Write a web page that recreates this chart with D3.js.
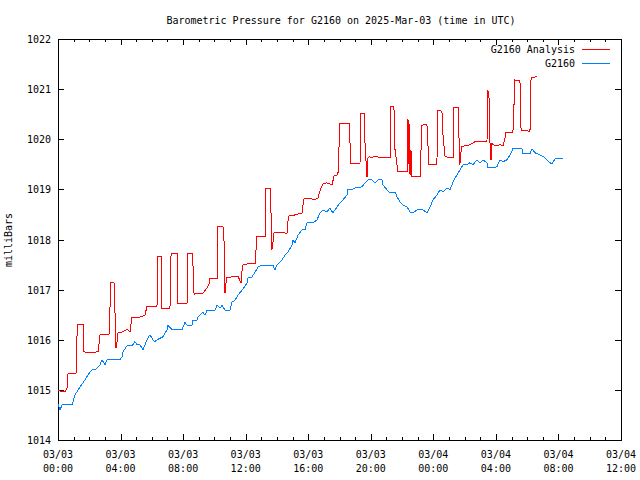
<!DOCTYPE html>
<html>
<head>
<meta charset="utf-8">
<script src="https://cdn.jsdelivr.net/npm/d3@7"></script>
<style>
  html, body { margin: 0; padding: 0; background: #fff; }
  svg { display: block; }
  text { font-family: "DejaVu Sans Mono", "Liberation Mono", monospace; font-size: 10px; fill: #000; }
</style>
</head>
<body>
<svg id="chart" width="640" height="480"></svg>
<script>
// ---- data (hours since 2025-03-03 00:00 UTC, pressure in mb) ----
const obsHours = [0.00,0.13,0.26,0.90,1.09,1.41,1.73,1.92,2.17,2.37,2.69,2.81,3.01,3.13,3.96,4.09,4.16,4.41,4.73,4.92,5.05,5.24,5.44,5.69,5.88,6.07,6.20,6.33,6.71,6.97,7.03,7.29,7.93,8.12,8.25,8.57,8.63,8.89,8.95,9.27,9.40,9.53,10.04,10.17,10.36,10.49,10.68,11.00,11.13,11.32,11.51,11.77,12.09,12.15,12.40,12.60,12.79,13.05,13.75,13.87,14.00,14.20,14.32,14.52,14.71,14.96,15.03,15.15,15.35,15.60,15.79,15.92,16.31,16.56,16.75,16.94,17.20,17.39,17.58,17.84,18.03,18.22,18.48,18.54,18.80,18.99,19.18,19.44,19.63,19.82,20.08,20.27,20.46,20.72,20.78,21.04,21.23,21.42,21.55,21.68,21.87,22.06,22.32,22.51,22.70,22.96,23.34,23.59,23.79,23.98,24.23,24.43,24.62,24.87,25.07,25.26,25.51,25.70,25.90,26.15,26.34,26.54,26.79,26.98,27.18,27.43,27.49,27.75,28.07,28.26,28.45,28.71,28.90,29.09,29.67,29.73,30.18,30.31,30.50,30.82,31.14,31.46,31.59,31.78,32.29];
const obsPressure = [1014.72,1014.60,1014.70,1014.70,1014.90,1015.06,1015.20,1015.30,1015.40,1015.40,1015.50,1015.60,1015.50,1015.60,1015.60,1015.66,1015.76,1015.88,1015.88,1015.96,1015.90,1015.90,1015.80,1016.00,1016.10,1016.00,1015.96,1016.00,1016.06,1016.20,1016.29,1016.20,1016.20,1016.35,1016.29,1016.29,1016.39,1016.39,1016.45,1016.55,1016.49,1016.59,1016.59,1016.69,1016.63,1016.69,1016.59,1016.59,1016.75,1016.79,1016.89,1016.99,1017.13,1017.23,1017.25,1017.35,1017.45,1017.49,1017.49,1017.39,1017.49,1017.55,1017.59,1017.69,1017.75,1017.89,1017.99,1017.93,1018.09,1018.19,1018.19,1018.33,1018.33,1018.39,1018.53,1018.59,1018.55,1018.63,1018.53,1018.65,1018.73,1018.79,1018.89,1018.99,1018.99,1019.03,1019.03,1019.05,1019.13,1019.19,1019.19,1019.13,1019.19,1019.19,1019.09,1018.99,1018.93,1018.93,1018.95,1018.85,1018.75,1018.69,1018.65,1018.55,1018.53,1018.59,1018.59,1018.53,1018.65,1018.79,1018.89,1018.99,1018.95,1019.03,1018.99,1019.15,1019.29,1019.39,1019.49,1019.49,1019.53,1019.49,1019.59,1019.53,1019.59,1019.53,1019.43,1019.43,1019.45,1019.59,1019.55,1019.59,1019.69,1019.81,1019.81,1019.71,1019.71,1019.81,1019.73,1019.69,1019.63,1019.53,1019.51,1019.61,1019.61];

const anaHours = [0.00,0.26,0.45,0.58,0.64,1.15,1.21,1.28,1.60,1.60,1.66,1.85,2.56,2.69,3.26,3.32,3.39,3.58,3.64,3.71,3.77,3.84,4.09,4.41,4.60,4.73,5.24,5.56,5.69,6.33,6.39,6.59,6.65,7.16,7.23,7.61,7.67,8.25,8.31,8.57,8.63,8.70,8.95,9.27,9.65,9.72,10.17,10.23,10.55,10.61,10.68,10.74,10.81,11.00,11.13,11.51,11.70,11.77,11.83,12.09,12.28,12.60,12.66,12.72,13.24,13.30,13.56,13.62,13.68,13.75,13.81,14.07,14.39,14.64,14.71,14.77,15.15,15.60,15.67,15.73,16.24,16.43,16.63,16.75,16.94,17.20,17.52,17.58,17.65,17.90,18.03,18.61,18.67,18.73,19.31,19.37,19.57,19.63,19.69,19.76,19.79,19.89,20.08,20.14,20.40,20.59,21.23,21.29,21.48,21.55,21.74,22.32,22.35,22.38,22.44,22.51,22.57,22.63,23.15,23.27,23.59,23.72,24.23,24.27,24.55,24.62,24.75,25.26,25.32,25.58,25.64,25.70,25.73,25.83,26.02,26.34,26.66,27.43,27.49,27.56,27.62,27.69,27.75,27.81,28.07,28.26,28.45,28.58,28.65,29.09,29.22,29.54,29.61,30.18,30.25,30.50,30.63];
const anaPressure = [1015.00,1014.96,1014.96,1015.04,1015.32,1015.32,1016.05,1016.31,1016.31,1016.05,1015.76,1015.74,1015.76,1016.10,1016.10,1016.61,1017.15,1017.15,1016.59,1015.84,1015.94,1016.15,1016.15,1016.21,1016.15,1016.45,1016.45,1016.49,1016.67,1016.67,1017.67,1017.67,1016.63,1016.63,1017.73,1017.73,1016.73,1016.73,1017.73,1017.73,1017.49,1016.91,1016.93,1016.93,1017.09,1017.23,1017.23,1018.25,1018.25,1018.05,1016.93,1017.13,1017.25,1017.23,1017.27,1017.27,1017.13,1017.39,1017.49,1017.51,1017.53,1017.51,1017.79,1018.05,1018.05,1019.01,1019.01,1018.53,1017.79,1017.95,1018.13,1018.13,1018.15,1018.11,1018.37,1018.47,1018.49,1018.53,1018.69,1018.81,1018.81,1018.79,1018.83,1018.97,1019.11,1019.13,1019.09,1019.17,1019.27,1019.29,1020.32,1020.32,1019.93,1019.51,1019.51,1020.52,1020.52,1019.93,1019.59,1019.25,1019.61,1019.65,1019.63,1019.65,1019.65,1019.63,1019.63,1020.66,1020.66,1019.79,1019.35,1019.35,1020.40,1019.49,1020.38,1019.29,1019.79,1019.25,1019.25,1020.28,1020.30,1019.49,1019.49,1020.58,1020.56,1020.08,1019.65,1019.63,1020.64,1020.64,1020.05,1019.49,1019.69,1019.85,1019.87,1019.89,1019.95,1019.95,1020.98,1020.82,1019.95,1019.59,1019.93,1019.89,1019.87,1019.89,1019.87,1020.02,1020.14,1020.14,1021.18,1021.16,1020.18,1020.16,1021.24,1021.24,1021.26];

const seriesNames = ["G2160 Analysis", "G2160"];
const seriesColors = ["#ff0000", "#0080ff"];

const xTickHours = [0,4,8,12,16,20,24,28,32,36];
const xTickDates = ["03/03","03/03","03/03","03/03","03/03","03/03","03/04","03/04","03/04","03/04"];
const xTickTimes = ["00:00","04:00","08:00","12:00","16:00","20:00","00:00","04:00","08:00","12:00"];
const yTicks = [1014,1015,1016,1017,1018,1019,1020,1021,1022];
const titleText = "Barometric Pressure for G2160 on 2025-Mar-03 (time in UTC)";
const yLabel = "milliBars";

// ---- layout ----
const L = 58, T = 39, R = 621, B = 440;
const svg = d3.select("#chart");
const x = d3.scaleLinear().domain([0, 36]).range([L, R]);
const y = d3.scaleLinear().domain([1014, 1022]).range([B, T]);

const minorHours = d3.range(0, 37, 1).filter(h => h % 4 !== 0);

// ticks (inward, mirrored)
const g = svg.append("g").attr("shape-rendering", "crispEdges");
function addAxis(axis, tx, ty) {
  const a = g.append("g").attr("transform", `translate(${tx},${ty})`).call(axis);
  a.select(".domain").remove();
  a.selectAll("text").remove();
  a.selectAll("line").attr("stroke", "#000");
}
addAxis(d3.axisBottom(x).tickValues(xTickHours).tickSize(-6).tickFormat(""), 0, B);
addAxis(d3.axisBottom(x).tickValues(minorHours).tickSize(-3).tickFormat(""), 0, B);
addAxis(d3.axisTop(x).tickValues(xTickHours).tickSize(-6).tickFormat(""), 0, T);
addAxis(d3.axisTop(x).tickValues(minorHours).tickSize(-3).tickFormat(""), 0, T);
addAxis(d3.axisLeft(y).tickValues(yTicks).tickSize(-6).tickFormat(""), L, 0);
addAxis(d3.axisRight(y).tickValues(yTicks).tickSize(-6).tickFormat(""), R, 0);

// frame
g.append("rect").attr("x", L).attr("y", T).attr("width", R - L).attr("height", B - T)
  .attr("fill", "none").attr("stroke", "#000").attr("stroke-width", 1);

// y tick labels
svg.append("g").selectAll("text").data(yTicks).join("text")
  .attr("x", L - 7).attr("y", d => y(d) + 4).attr("text-anchor", "end").text(d => d);

// x tick labels (two lines)
const xl = svg.append("g").selectAll("g").data(xTickHours).join("g")
  .attr("transform", d => `translate(${x(d)},0)`);
xl.append("text").attr("y", 458).attr("text-anchor", "middle").text((d, i) => xTickDates[i]);
xl.append("text").attr("y", 472).attr("text-anchor", "middle").text((d, i) => xTickTimes[i]);

// title
svg.append("text").attr("x", 341).attr("y", 24).attr("text-anchor", "middle").text(titleText);

// y label
svg.append("text").attr("transform", "translate(12,240) rotate(-90)")
  .attr("text-anchor", "middle").text(yLabel);

// lines (aliased, like the original bitmap plot)
const line = d3.line().x(d => x(d[0])).y(d => y(d[1]));
const anaData = anaHours.map((h, i) => [h, anaPressure[i]]);
const obsData = obsHours.map((h, i) => [h, obsPressure[i]]);
svg.append("path").datum(anaData).attr("d", line).attr("fill", "none")
  .attr("stroke", seriesColors[0]).attr("stroke-width", 1).attr("shape-rendering", "crispEdges");
svg.append("path").datum(obsData).attr("d", line).attr("fill", "none")
  .attr("stroke", seriesColors[1]).attr("stroke-width", 1).attr("shape-rendering", "crispEdges");

// legend
const leg = svg.append("g");
seriesNames.forEach((name, i) => {
  const ly = 49 + i * 14;
  leg.append("text").attr("x", 575).attr("y", ly + 4).attr("text-anchor", "end").text(name);
  leg.append("line").attr("x1", 582).attr("x2", 610).attr("y1", ly).attr("y2", ly)
    .attr("stroke", seriesColors[i]).attr("stroke-width", 1).attr("shape-rendering", "crispEdges");
});
</script>
</body>
</html>
